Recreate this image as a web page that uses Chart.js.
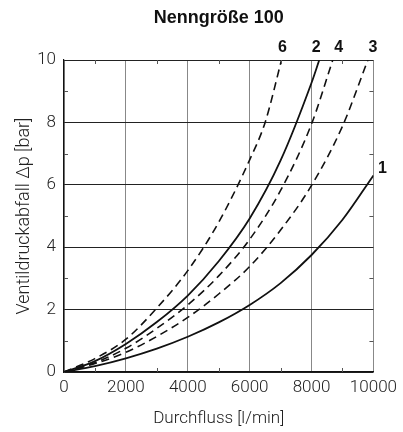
<!DOCTYPE html>
<html><head><meta charset="utf-8">
<script src="https://cdn.jsdelivr.net/npm/chart.js@4/dist/chart.umd.min.js"></script>
<style>html,body{margin:0;padding:0;background:#fff}#wrap{width:403px;height:432px}</style>
</head><body><div id="wrap"><canvas id="c" width="403" height="432"></canvas></div>
<script>
const titleText = 'Nenngröße 100';
const xTitle = 'Durchfluss [l/min]';
const yTitle = 'Ventildruckabfall Δp [bar]';
const curveNames = ['1', '2', '3', '4', '6'];
const curveDashed = [false, false, true, true, true];

const flow1 = [0, 1000, 2000, 3000, 4000, 5000, 6000, 7000, 8000, 9000, 10000];
const dp1   = [0, 0.19, 0.44, 0.75, 1.13, 1.59, 2.15, 2.85, 3.75, 4.88, 6.3];

const flow2 = [0, 1000, 2000, 3000, 4000, 5000, 6000, 7000, 8000, 8250];
const dp2   = [0, 0.35, 0.9, 1.6, 2.45, 3.55, 4.92, 6.78, 9.27, 10.0];

const flow3 = [0, 1000, 2000, 3000, 4000, 5000, 6000, 7000, 8000, 9000, 9820];
const dp3   = [0, 0.27, 0.63, 1.14, 1.75, 2.5, 3.38, 4.55, 5.98, 7.88, 10.0];

const flow4 = [0, 1000, 2000, 3000, 4000, 5000, 6000, 7000, 8000, 8686];
const dp4   = [0, 0.3, 0.76, 1.4, 2.15, 3.08, 4.25, 5.82, 7.95, 10.0];

const flow6 = [0, 1000, 2000, 3000, 4000, 5000, 6000, 6500, 7030];
const dp6   = [0, 0.43, 1.05, 2.05, 3.25, 4.8, 6.8, 8.0, 10.0];

const xTicks = [0, 2000, 4000, 6000, 8000, 10000];
const yTicks = [0, 2, 4, 6, 8, 10];
const minorX = [1000, 3000, 5000, 7000, 9000];
const minorY = [1, 3, 5, 7, 9];

const flows = [flow1, flow2, flow3, flow4, flow6];
const dps = [dp1, dp2, dp3, dp4, dp6];

const datasets = curveNames.map((n, k) => ({
  label: n,
  data: flows[k].map((x, i) => ({x: x, y: dps[k][i]})),
  borderColor: '#111',
  borderWidth: curveDashed[k] ? 1.6 : 1.8,
  borderDash: curveDashed[k] ? [8, 5] : [],
  pointRadius: 0,
  fill: false,
  cubicInterpolationMode: 'monotone'
}));

const labelOffsets = {'1': [9, -7], '2': [-3, -12], '3': [5, -12], '4': [6, -12], '6': [1, -12]};

const extras = {
  id: 'extras',
  afterDatasetsDraw(chart) {
    const ctx = chart.ctx, xs = chart.scales.x, ys = chart.scales.y, a = chart.chartArea;
    ctx.save();
    ctx.strokeStyle = '#555';
    ctx.lineWidth = 1;
    ctx.beginPath();
    minorX.forEach(v => {
      const px = Math.round(xs.getPixelForValue(v)) + 0.5;
      ctx.moveTo(px, a.top); ctx.lineTo(px, a.top + 4);
      ctx.moveTo(px, a.bottom); ctx.lineTo(px, a.bottom - 4);
    });
    minorY.forEach(v => {
      const py = Math.round(ys.getPixelForValue(v)) + 0.5;
      ctx.moveTo(a.left, py); ctx.lineTo(a.left + 4, py);
      ctx.moveTo(a.right, py); ctx.lineTo(a.right - 4, py);
    });
    ctx.stroke();
    ctx.fillStyle = '#111';
    ctx.textAlign = 'center';
    ctx.textBaseline = 'middle';
    ctx.font = 'bold 18px "Liberation Sans", Arial, sans-serif';
    ctx.fillText(titleText, (a.left + a.right) / 2, 18);
    ctx.font = 'bold 16px "Liberation Sans", Arial, sans-serif';
    chart.data.datasets.forEach((ds, k) => {
      const last = ds.data[ds.data.length - 1];
      const off = labelOffsets[ds.label];
      ctx.fillText(ds.label, xs.getPixelForValue(last.x) + off[0], ys.getPixelForValue(last.y) + off[1]);
    });
    ctx.restore();
  }
};

const lightFont = '"Roboto", "DejaVu Sans", sans-serif';

new Chart(document.getElementById('c'), {
  type: 'line',
  data: {datasets: datasets},
  options: {
    responsive: false,
    animation: false,
    layout: {padding: {left: 0, right: 27, top: 60, bottom: 0}},
    plugins: {
      legend: {display: false},
      tooltip: {enabled: false},
      title: {display: false}
    },
    scales: {
      x: {
        type: 'linear', min: 0, max: 10000,
        afterBuildTicks: s => { s.ticks = xTicks.map(v => ({value: v})); },
        afterFit: s => { s.height = 60; },
        ticks: {color: '#222', font: {family: lightFont, size: 17, weight: 300}, padding: 6, maxRotation: 0, autoSkip: false,
                callback: v => String(v)},
        grid: {color: '#888', lineWidth: 1, drawTicks: false},
        border: {color: '#111', width: 1.2},
        title: {display: true, text: xTitle, color: '#222', font: {family: lightFont, size: 17, weight: 300}, padding: {top: 4, bottom: 3}}
      },
      y: {
        type: 'linear', min: 0, max: 10,
        afterBuildTicks: s => { s.ticks = yTicks.map(v => ({value: v})); },
        afterFit: s => { s.width = 64; },
        ticks: {color: '#222', font: {family: lightFont, size: 17, weight: 300}, padding: 8, callback: v => String(v)},
        grid: {color: '#222', lineWidth: 1, drawTicks: false},
        border: {color: '#111', width: 1.2},
        title: {display: true, text: yTitle, color: '#222', font: {family: lightFont, size: 18, weight: 300}, padding: {top: 14, bottom: 0}}
      }
    }
  },
  plugins: [extras]
});
</script></body></html>
